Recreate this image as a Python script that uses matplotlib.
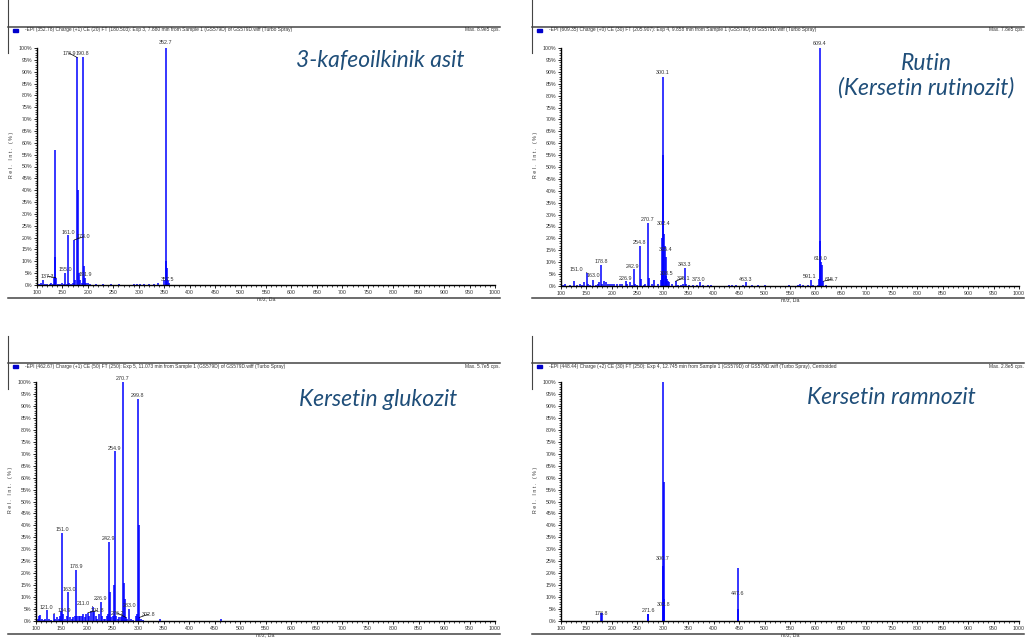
"""Four MS/MS (EPI) spectra panels with compound names."""
import matplotlib
matplotlib.use("Agg")
import matplotlib.pyplot as plt
from matplotlib.lines import Line2D
from matplotlib.patches import Rectangle
from matplotlib.ticker import MultipleLocator, FuncFormatter

W, H = 1027, 639

# ---- 3-kafeoilkinik asit -------------------------------------------------
cqa_mz = [100, 103, 108, 111, 115, 120, 125, 128, 132, 134, 135.0, 136, 137.3,
          141, 146, 150, 153, 155.0, 158, 161.0, 163, 166, 170, 173.0, 175,
          178.9, 180, 182, 185, 188, 190.8, 191.9, 194, 197, 200, 205, 215, 230,
          245, 262, 290, 296, 303, 311, 320, 330, 337, 350, 352.7, 354, 355,
          357.5, 360]
cqa_int = [2, 0.5, 1, 2, 0.5, 0.5, 0.5, 0.8, 0.5, 3, 57, 12, 3,
           0.5, 0.5, 1, 0.6, 5, 0.5, 21, 1, 0.5, 1, 19, 2,
           96, 40, 5, 2, 1, 96, 8, 3, 1, 1, 0.5, 0.5, 0.5,
           0.5, 0.5, 0.5, 0.5, 0.5, 0.5, 0.5, 0.5, 0.8, 2, 100, 10, 7,
           2, 1]
cqa_lab = ["137.3", "155.0", "161.0", "173.0", "178.9", "190.8", "191.9",
           "352.7", "357.5"]
cqa_lab_int = [3, 5, 21, 19, 96, 96, 8, 100, 2]

# ---- Rutin ---------------------------------------------------------------
rut_mz = [100, 104, 108, 118, 125, 131, 137, 141, 146, 151.0, 153, 157, 163.0,
          168, 172, 175, 178.8, 181, 185, 188, 192, 196, 200, 205, 211, 216,
          220, 226.9, 230, 235, 239, 242.9, 246, 250, 254.8, 257, 263, 266,
          270.7, 273, 278, 283, 290, 296, 298, 299, 300.1, 301, 302.4, 303.5,
          305.4, 307, 308.5, 310, 313, 318, 325.1, 330, 335, 340, 343.3, 346,
          352, 360, 368, 373.0, 380, 388, 395, 430, 437, 443, 457, 463.3, 475,
          488, 500, 548, 565, 570, 575, 585, 591.1, 595, 605, 607, 609.4,
          609.8, 610.0, 612, 615.7, 620]
rut_int = [2, 0.5, 1, 0.5, 2, 0.5, 1, 0.5, 1.5, 5.5, 1, 0.5, 2.5,
           0.5, 1, 1.5, 9, 1, 2, 1.5, 1, 1, 1, 1, 1, 0.8,
           1, 2, 1, 1.5, 0.5, 7, 1, 0.5, 17, 3, 0.5, 1,
           26.5, 3.5, 1, 2.5, 1, 2.5, 6, 20, 88, 55, 22, 17,
           12, 4, 3, 2, 1.5, 1, 2, 0.5, 0.5, 1, 7.5, 1,
           0.5, 0.5, 0.5, 1.5, 0.5, 0.5, 0.5, 0.5, 0.5, 0.5, 0.5, 1.5, 0.5,
           0.5, 0.5, 0.5, 0.5, 1, 0.5, 0.5, 2.5, 0.5, 0.5, 3, 100,
           19, 10, 9, 2, 0.5]
rut_lab = ["151.0", "163.0", "178.8", "226.9", "242.9", "254.8", "270.7",
           "300.1", "302.4", "305.4", "308.5", "325.1", "343.3", "373.0",
           "463.3", "591.1", "609.4", "610.0", "615.7"]
rut_lab_int = [5.5, 2.5, 9, 2, 7, 17, 26.5, 88, 22, 12, 3, 2, 7.5, 1.5,
               1.5, 2.5, 100, 10, 2]

# ---- Kersetin glukozit ---------------------------------------------------
glu_mz = [100, 103, 106, 108, 111, 115, 118, 121.0, 125, 130, 134.9, 138, 141,
          145, 147, 149, 151.0, 153, 157, 160, 163.0, 166, 170, 173, 176,
          178.9, 181, 184, 187, 190, 193, 196, 199, 201.8, 204, 208, 211.0,
          214, 217, 220, 224, 226.9, 230, 233, 236, 239, 241, 242.9, 245, 248,
          251, 253, 254.9, 257, 260, 263, 266, 269, 270.7, 272, 274, 276.2,
          279, 283.0, 287, 291, 296, 298, 299.8, 301, 302.8, 305, 310, 343,
          463]
glu_int = [2, 1, 2, 2.5, 1, 0.5, 1, 4.5, 1, 0.5, 3, 1, 1.5,
           1, 2, 4, 37, 3, 1, 2, 12, 1.5, 1, 1.5, 2,
           21.5, 2, 2, 2, 2, 3, 1.5, 3, 3.5, 2, 4, 6,
           4, 2, 1, 3, 8, 2, 1, 1, 2, 3, 33, 12, 1.5,
           2, 15, 71, 2, 1, 1.5, 1.5, 2, 100, 16, 9, 1.5,
           1, 5, 1, 0.5, 2, 3, 93, 40, 1.5, 1, 0.5, 0.8,
           0.8]
glu_lab = ["121.0", "134.9", "151.0", "163.0", "178.9", "201.8", "211.0",
           "226.9", "242.9", "254.9", "270.7", "276.2", "283.0", "299.8",
           "302.8"]
glu_lab_int = [4.5, 3, 37, 12, 21.5, 3.5, 6, 8, 33, 71, 100, 1.5, 5, 93, 1.5]

# ---- Kersetin ramnozit (centroided) --------------------------------------
ram_mz = [100, 178.0, 179.6, 271.0, 271.8, 299.7, 300.8, 301.8, 302.8,
          447.6, 448.6]
ram_int = [1.5, 3.5, 3.5, 3, 3, 23, 100, 58, 9, 22, 5]
ram_lab = ["178.8", "271.6", "300.7", "302.8", "447.6"]
ram_lab_int = [3.5, 3, 23, 9, 22]

headers = [
    "-EPI (352.78) Charge (+1) CE (20) FT (180.503): Exp 3, 7.880 min from Sample 1 (GS579D) of GS579D.wiff (Turbo Spray)",
    "-EPI (609.35) Charge (+0) CE (30) FT (205.907): Exp 4, 9.858 min from Sample 1 (GS579D) of GS579D.wiff (Turbo Spray)",
    "-EPI (462.67) Charge (+1) CE (50) FT (250): Exp 5, 11.073 min from Sample 1 (GS579D) of GS579D.wiff (Turbo Spray)",
    "-EPI (448.44) Charge (+2) CE (30) FT (250): Exp 4, 12.745 min from Sample 1 (GS579D) of GS579D.wiff (Turbo Spray), Centroided",
]
max_cps = ["Max. 8.9e5 cps.", "Max. 7.8e5 cps.", "Max. 5.7e5 cps.", "Max. 2.8e5 cps."]
titles = ["3-kafeoilkinik asit", "Rutin\n(Kersetin rutinozit)",
          "Kersetin glukozit", "Kersetin ramnozit"]

# label nudges (dx in Da, dy in %) -- placement only
nudges = [
    {"137.3": (-17, -0.6), "173.0": (18, 0), "178.9": (-16, 0.5),
     "190.8": (-1, 0.5), "191.9": (4, -4.8), "352.7": (0, 1), "357.5": (0, -1)},
    {"151.0": (-20, 0.2), "163.0": (0, 0.4), "242.9": (-3, 0), "300.1": (-1, 0.5),
     "302.4": (0, 3), "305.4": (0, 2), "308.5": (0, 1), "325.1": (15, 0),
     "373.0": (-2, 0), "591.1": (-2, 0), "609.4": (-2, 0.7), "610.0": (1, 0),
     "615.7": (16, -0.5)},
    {"134.9": (20, 0), "163.0": (2, 0), "201.8": (18, -0.5), "211.0": (-19, 0),
     "276.2": (-17, 0.5), "302.8": (18, 0), "270.7": (0, 0.3)},
    {"178.8": (0, -1.5), "300.7": (0, 2), "302.8": (-2, -3.3), "447.6": (0, -11.7)},
]

# panel layout in pixels: axes (left, right, top=100%, bottom=0%), frame x0,x1,
# header line y, bottom line y
panels = [
    dict(ax=(37, 495, 48, 285), fx=(8, 500), hy=27, by=298, ty=30),
    dict(ax=(561, 1019, 48, 286), fx=(532, 1024), hy=27, by=298, ty=30),
    dict(ax=(36, 495, 382, 621), fx=(8, 500), hy=363, by=634, ty=366),
    dict(ax=(561, 1019, 382, 621), fx=(532, 1024), hy=363, by=634, ty=366),
]
title_pos = [(380, 60), (926, 76), (378, 399), (891, 397)]

spectra = [(cqa_mz, cqa_int, cqa_lab, cqa_lab_int),
           (rut_mz, rut_int, rut_lab, rut_lab_int),
           (glu_mz, glu_int, glu_lab, glu_lab_int),
           (ram_mz, ram_int, ram_lab, ram_lab_int)]

SMALL = "Liberation Sans"
BLUE = "#0000FF"
TITLE_C = "#1F4E79"

fig = plt.figure(figsize=(W / 100, H / 100), dpi=100)


def fx(x):
    return x / W


def fy(y):
    return 1 - y / H


for i, (p, (mz, inten, lab, lab_int)) in enumerate(zip(panels, spectra)):
    l, r, t, b = p["ax"]
    ax = fig.add_axes([fx(l), fy(b), (r - l) / W, (b - t) / H])
    ax.vlines(mz, 0, inten, color=BLUE, lw=1.1)
    ax.set_xlim(100, 1000)
    ax.set_ylim(0, 100)
    for s in ("top", "right"):
        ax.spines[s].set_visible(False)
    for s in ("left", "bottom"):
        ax.spines[s].set_linewidth(1.0)
    ax.xaxis.set_major_locator(MultipleLocator(50))
    ax.xaxis.set_minor_locator(MultipleLocator(10))
    ax.yaxis.set_major_locator(MultipleLocator(5))
    ax.yaxis.set_minor_locator(MultipleLocator(1))
    ax.yaxis.set_major_formatter(FuncFormatter(lambda v, _: f"{v:.0f}%"))
    ax.tick_params(which="major", length=2.5, width=0.6, labelsize=3.8, pad=1)
    ax.tick_params(which="minor", length=1.3, width=0.5)
    for lbl in ax.get_xticklabels() + ax.get_yticklabels():
        lbl.set_family(SMALL)
        lbl.set_color("#333333")
    ax.set_xlabel("m/z, Da", fontsize=3.8, family=SMALL, labelpad=1, color="#333333")
    ax.set_ylabel("R e l .   I n t .   ( % )", fontsize=3.8, family=SMALL, color="#333333")
    ax.yaxis.set_label_coords(-0.05, 0.55)

    nd = nudges[i]
    for txt, h in zip(lab, lab_int):
        m = float(txt)
        dx, dy = nd.get(txt, (0, 0))
        kw = {}
        if abs(dx) > 8:
            kw["arrowprops"] = dict(arrowstyle="-", lw=0.5, color="black",
                                    shrinkA=0, shrinkB=0)
        ax.annotate(txt, xy=(m, h), xytext=(m + dx, h + 0.3 + dy),
                    ha="center", va="bottom", fontsize=3.9, family=SMALL,
                    color="#333333", annotation_clip=False, **kw)

    # frame lines of the exported spectrum window
    x0, x1 = p["fx"]
    fig.add_artist(Line2D([fx(x0), fx(x0)], [fy(p["hy"] - 27), fy(p["hy"] + 26)],
                          transform=fig.transFigure, color="#444444", lw=0.8))
    fig.add_artist(Line2D([fx(x0), fx(x1)], [fy(p["hy"]), fy(p["hy"])],
                          transform=fig.transFigure, color="#444444", lw=1.1))
    fig.add_artist(Line2D([fx(x0), fx(x1)], [fy(p["by"]), fy(p["by"])],
                          transform=fig.transFigure, color="#444444", lw=1.1))
    fig.add_artist(Rectangle((fx(x0 + 5), fy(p["ty"] + 2)), 5 / W, 3.5 / H,
                             transform=fig.transFigure, color="#0000CC"))
    fig.text(fx(x0 + 17), fy(p["ty"]), headers[i], fontsize=3.5, family=SMALL,
             va="center", ha="left", color="#333333")
    fig.text(fx(x1), fy(p["ty"]), max_cps[i], fontsize=3.5, family=SMALL,
             va="center", ha="right", color="#333333")

    tx, ty = title_pos[i]
    fig.text(fx(tx), fy(ty), titles[i], fontsize=16.5, family="Lato", style="italic",
             color=TITLE_C, ha="center", va="center", linespacing=1.15)

fig.savefig("out.png", dpi=100)
